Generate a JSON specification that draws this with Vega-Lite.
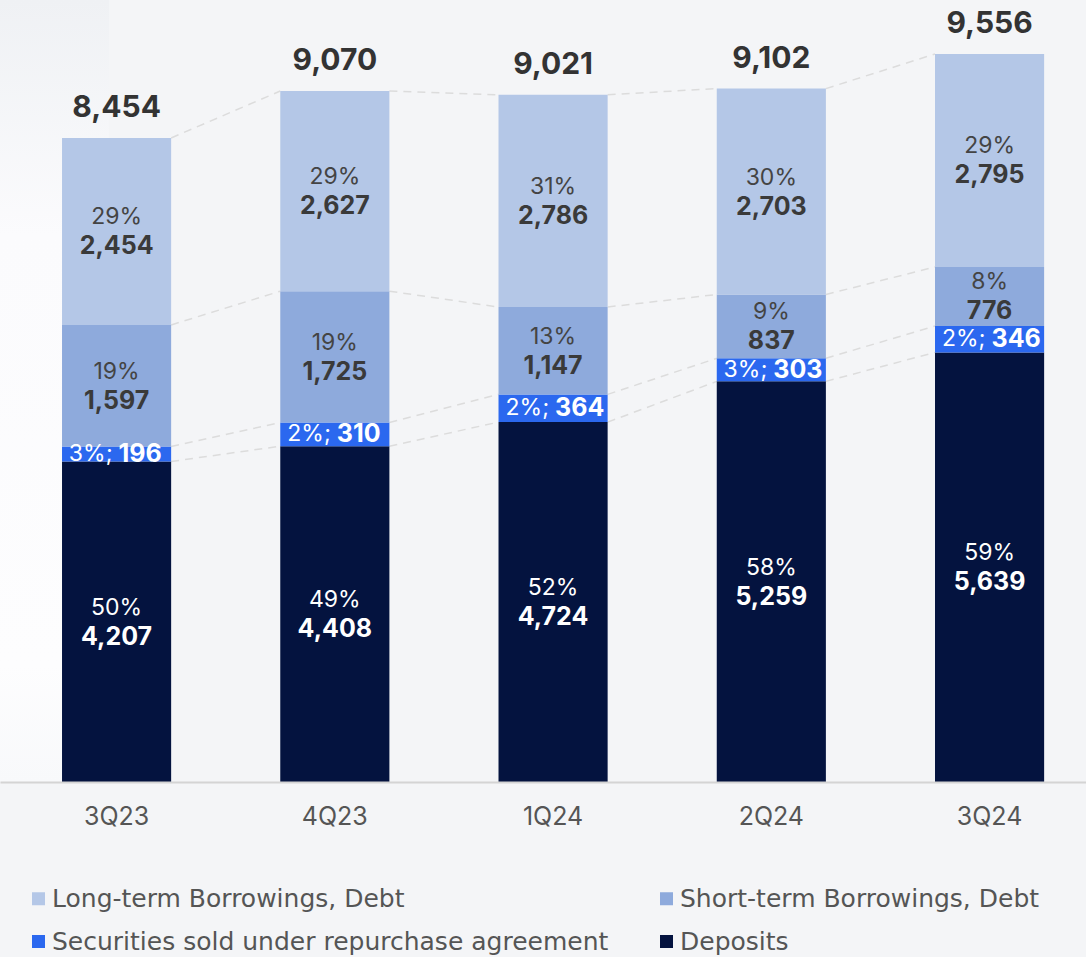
{
  "$schema": "https://vega.github.io/schema/vega-lite/v6.json",
  "width": 1086,
  "height": 782,
  "autosize": {"type": "none"},
  "padding": {"left": 0, "top": 0, "right": 0, "bottom": 175},
  "background": "#f4f5f7",
  "config": {"view": {"stroke": null}, "font": "Inter"},
  "data": {"values": [
    {"quarter": "3Q23", "qi": 0, "series": "Deposits", "ord": 0, "value": 4207, "pct": "50%"},
    {"quarter": "3Q23", "qi": 0, "series": "Securities sold under repurchase agreement", "ord": 1, "value": 196, "pct": "3%"},
    {"quarter": "3Q23", "qi": 0, "series": "Short-term Borrowings, Debt", "ord": 2, "value": 1597, "pct": "19%"},
    {"quarter": "3Q23", "qi": 0, "series": "Long-term Borrowings, Debt", "ord": 3, "value": 2454, "pct": "29%"},
    {"quarter": "4Q23", "qi": 1, "series": "Deposits", "ord": 0, "value": 4408, "pct": "49%"},
    {"quarter": "4Q23", "qi": 1, "series": "Securities sold under repurchase agreement", "ord": 1, "value": 310, "pct": "2%"},
    {"quarter": "4Q23", "qi": 1, "series": "Short-term Borrowings, Debt", "ord": 2, "value": 1725, "pct": "19%"},
    {"quarter": "4Q23", "qi": 1, "series": "Long-term Borrowings, Debt", "ord": 3, "value": 2627, "pct": "29%"},
    {"quarter": "1Q24", "qi": 2, "series": "Deposits", "ord": 0, "value": 4724, "pct": "52%"},
    {"quarter": "1Q24", "qi": 2, "series": "Securities sold under repurchase agreement", "ord": 1, "value": 364, "pct": "2%"},
    {"quarter": "1Q24", "qi": 2, "series": "Short-term Borrowings, Debt", "ord": 2, "value": 1147, "pct": "13%"},
    {"quarter": "1Q24", "qi": 2, "series": "Long-term Borrowings, Debt", "ord": 3, "value": 2786, "pct": "31%"},
    {"quarter": "2Q24", "qi": 3, "series": "Deposits", "ord": 0, "value": 5259, "pct": "58%"},
    {"quarter": "2Q24", "qi": 3, "series": "Securities sold under repurchase agreement", "ord": 1, "value": 303, "pct": "3%"},
    {"quarter": "2Q24", "qi": 3, "series": "Short-term Borrowings, Debt", "ord": 2, "value": 837, "pct": "9%"},
    {"quarter": "2Q24", "qi": 3, "series": "Long-term Borrowings, Debt", "ord": 3, "value": 2703, "pct": "30%"},
    {"quarter": "3Q24", "qi": 4, "series": "Deposits", "ord": 0, "value": 5639, "pct": "59%"},
    {"quarter": "3Q24", "qi": 4, "series": "Securities sold under repurchase agreement", "ord": 1, "value": 346, "pct": "2%"},
    {"quarter": "3Q24", "qi": 4, "series": "Short-term Borrowings, Debt", "ord": 2, "value": 776, "pct": "8%"},
    {"quarter": "3Q24", "qi": 4, "series": "Long-term Borrowings, Debt", "ord": 3, "value": 2795, "pct": "29%"}
  ]},
  "transform": [
    {"stack": "value", "groupby": ["quarter"], "sort": [{"field": "ord", "order": "ascending"}], "as": ["y0", "y1"]},
    {"calculate": "(datum.y0 + datum.y1) / 2", "as": "mid"}
  ],
  "resolve": {"scale": {"color": "independent"}},
  "layer": [
    {
      "data": {"values": [{}]},
      "transform": [],
      "mark": {"type": "rect", "color": {"gradient": "linear", "x1": 0, "y1": 0, "x2": 0, "y2": 1, "stops": [
        {"offset": 0, "color": "#eff1f4"},
        {"offset": 0.3, "color": "#fbfbfd"},
        {"offset": 0.85, "color": "#fdfdfe"},
        {"offset": 1, "color": "#f8f9fb"}
      ]}},
      "encoding": {}
    },
    {
      "transform": [
        {"window": [{"op": "lead", "field": "y1", "as": "ny"}, {"op": "lead", "field": "quarter", "as": "nq"}], "groupby": ["series"], "sort": [{"field": "qi", "order": "ascending"}]},
        {"filter": "datum.nq != null"}
      ],
      "mark": {"type": "rule", "stroke": "#dcdcdc", "strokeWidth": 1.5, "strokeDash": [8, 6]},
      "encoding": {
        "x": {"field": "quarter", "type": "nominal", "bandPosition": 1},
        "x2": {"field": "nq", "bandPosition": 0},
        "y": {"field": "y1", "type": "quantitative"},
        "y2": {"field": "ny"}
      }
    },
    {
      "mark": {"type": "bar"},
      "encoding": {
        "x": {"field": "quarter", "type": "nominal"},
        "y": {"field": "y1", "type": "quantitative"},
        "y2": {"field": "y0"},
        "color": {
          "field": "series", "type": "nominal",
          "scale": {
            "domain": ["Long-term Borrowings, Debt", "Short-term Borrowings, Debt", "Securities sold under repurchase agreement", "Deposits"],
            "range": ["#b4c7e7", "#8eaadc", "#2b68ef", "#04133f"]
          },
          "legend": {
            "orient": "none", "direction": "horizontal", "legendX": 26, "legendY": 886, "columns": 2, "columnPadding": 45, "rowPadding": 17,
            "title": null, "padding": 0, "symbolType": "square", "symbolSize": 169, "symbolStrokeWidth": 0,
            "labelFont": "DejaVu Sans", "labelFontSize": 25, "labelColor": "#555555", "labelOffset": 1, "labelLimit": 800
          }
        }
      }
    },
    {
      "transform": [{"filter": "datum.series != 'Securities sold under repurchase agreement'"}],
      "mark": {"type": "text", "fontSize": 23, "baseline": "middle", "dy": -14},
      "encoding": {
        "x": {"field": "quarter", "type": "nominal"},
        "y": {"field": "mid", "type": "quantitative"},
        "text": {"field": "pct"},
        "color": {"condition": {"test": "datum.series == 'Deposits'", "value": "#ffffff"}, "value": "#444444"}
      }
    },
    {
      "transform": [{"filter": "datum.series != 'Securities sold under repurchase agreement'"}],
      "mark": {"type": "text", "fontSize": 25, "fontWeight": "bold", "baseline": "middle", "dy": 15},
      "encoding": {
        "x": {"field": "quarter", "type": "nominal"},
        "y": {"field": "mid", "type": "quantitative"},
        "text": {"field": "value", "format": ",d"},
        "color": {"condition": {"test": "datum.series == 'Deposits'", "value": "#ffffff"}, "value": "#3a3a3a"}
      }
    },
    {
      "transform": [{"filter": "datum.series == 'Securities sold under repurchase agreement'"}, {"calculate": "datum.pct + ';'", "as": "plab"}],
      "mark": {"type": "text", "fontSize": 23, "baseline": "middle", "align": "right", "dx": -4, "color": "#ffffff"},
      "encoding": {
        "x": {"field": "quarter", "type": "nominal"},
        "y": {"field": "mid", "type": "quantitative"},
        "text": {"field": "plab"}
      }
    },
    {
      "transform": [{"filter": "datum.series == 'Securities sold under repurchase agreement'"}],
      "mark": {"type": "text", "fontSize": 25, "fontWeight": "bold", "baseline": "middle", "align": "left", "dx": 2, "color": "#ffffff"},
      "encoding": {
        "x": {"field": "quarter", "type": "nominal"},
        "y": {"field": "mid", "type": "quantitative"},
        "text": {"field": "value", "format": ",d"}
      }
    },
    {
      "transform": [{"filter": "datum.series == 'Long-term Borrowings, Debt'"}],
      "mark": {"type": "text", "fontSize": 30, "fontWeight": "bold", "baseline": "middle", "dy": -30, "color": "#333333"},
      "encoding": {
        "x": {"field": "quarter", "type": "nominal"},
        "y": {"field": "y1", "type": "quantitative"},
        "text": {"field": "y1", "format": ",d"}
      }
    }
  ],
  "encoding": {
    "x": {
      "field": "quarter", "type": "nominal",
      "scale": {"domain": ["3Q23", "4Q23", "1Q24", "2Q24", "3Q24"], "paddingInner": 0.5, "paddingOuter": 0.238, "align": 0.597, "round": false},
      "axis": {"title": null, "ticks": false, "labelAngle": 0, "labelFontSize": 25, "labelColor": "#555555", "labelBaseline": "middle", "labelPadding": 34, "domainColor": "#d4d4d4", "domainWidth": 2, "labelFont": "Inter"}
    },
    "y": {
      "type": "quantitative",
      "scale": {"domain": [0, 10265], "nice": false, "zero": true},
      "axis": null
    }
  }
}
